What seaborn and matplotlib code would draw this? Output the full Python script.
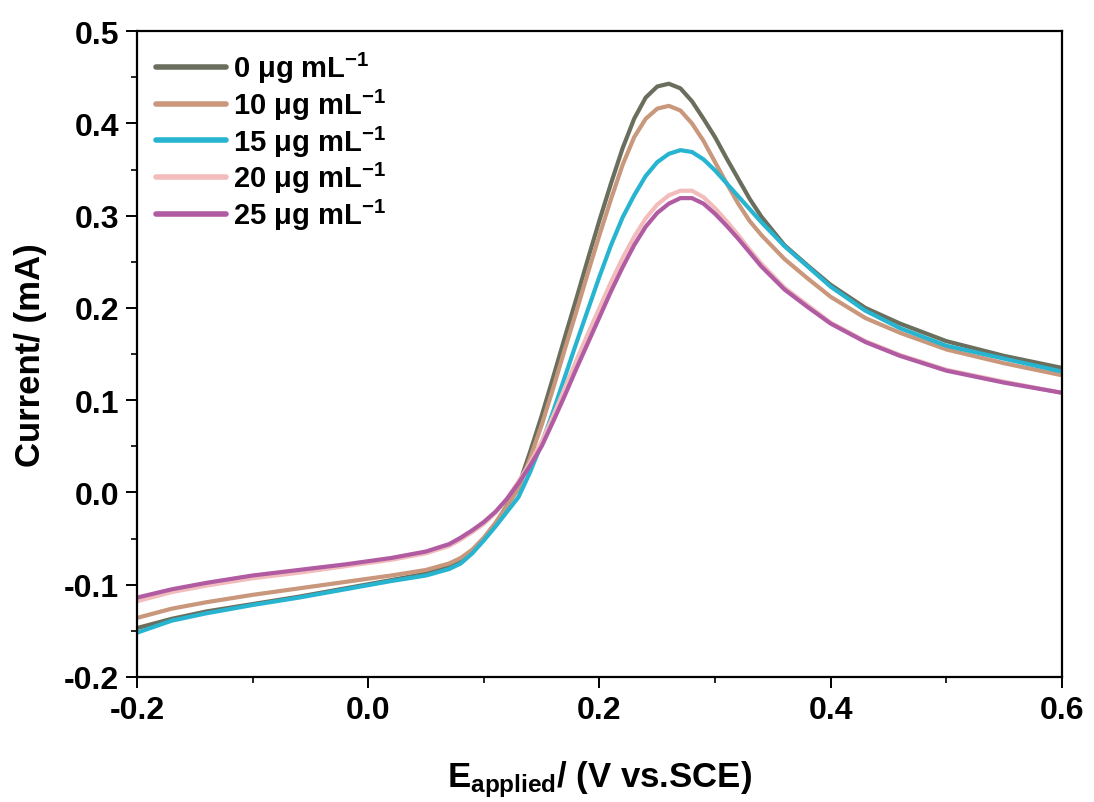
import matplotlib
matplotlib.use("Agg")
import matplotlib.pyplot as plt
from matplotlib.ticker import MultipleLocator
import seaborn as sns
import pandas as pd

# ---- data ----
potential = [-0.20, -0.17, -0.14, -0.10, -0.06, -0.02, 0.02, 0.05, 0.07, 0.08,
             0.09, 0.10, 0.11, 0.12, 0.13, 0.14, 0.15, 0.16, 0.17, 0.18,
             0.19, 0.20, 0.21, 0.22, 0.23, 0.24, 0.25, 0.26, 0.27, 0.28,
             0.29, 0.30, 0.31, 0.32, 0.33, 0.34, 0.36, 0.38, 0.40, 0.43,
             0.46, 0.50, 0.55, 0.60]

current_0 = [-0.147, -0.137, -0.129, -0.121, -0.113, -0.104, -0.095, -0.088, -0.080, -0.074,
             -0.064, -0.050, -0.034, -0.014, 0.007, 0.044, 0.083, 0.125, 0.168, 0.210,
             0.253, 0.295, 0.335, 0.373, 0.405, 0.428, 0.440, 0.443, 0.438, 0.424,
             0.405, 0.385, 0.362, 0.340, 0.318, 0.299, 0.268, 0.246, 0.225, 0.200,
             0.183, 0.164, 0.148, 0.135]

current_10 = [-0.136, -0.126, -0.119, -0.111, -0.104, -0.097, -0.090, -0.084, -0.077, -0.071,
              -0.062, -0.049, -0.033, -0.015, 0.004, 0.037, 0.073, 0.113, 0.155, 0.196,
              0.238, 0.279, 0.318, 0.355, 0.385, 0.405, 0.416, 0.419, 0.414, 0.400,
              0.381, 0.358, 0.335, 0.313, 0.294, 0.279, 0.253, 0.232, 0.212, 0.189,
              0.173, 0.155, 0.140, 0.127]

current_15 = [-0.152, -0.139, -0.131, -0.122, -0.114, -0.105, -0.096, -0.090, -0.083, -0.077,
              -0.066, -0.052, -0.037, -0.021, -0.005, 0.022, 0.053, 0.088, 0.125, 0.162,
              0.198, 0.234, 0.268, 0.298, 0.322, 0.343, 0.358, 0.367, 0.371, 0.369,
              0.361, 0.349, 0.335, 0.321, 0.307, 0.293, 0.267, 0.245, 0.223, 0.197,
              0.178, 0.159, 0.145, 0.131]

current_20 = [-0.118, -0.108, -0.101, -0.093, -0.087, -0.080, -0.073, -0.066, -0.058, -0.051,
              -0.043, -0.034, -0.022, -0.007, 0.012, 0.032, 0.055, 0.083, 0.113, 0.143,
              0.172, 0.200, 0.228, 0.254, 0.277, 0.297, 0.312, 0.322, 0.327, 0.327,
              0.320, 0.308, 0.294, 0.279, 0.263, 0.248, 0.222, 0.203, 0.184, 0.164,
              0.149, 0.133, 0.120, 0.108]

current_25 = [-0.114, -0.105, -0.098, -0.090, -0.084, -0.078, -0.071, -0.064, -0.056, -0.049,
              -0.041, -0.032, -0.021, -0.007, 0.010, 0.029, 0.050, 0.077, 0.105, 0.134,
              0.162, 0.190, 0.218, 0.244, 0.268, 0.288, 0.303, 0.313, 0.319, 0.319,
              0.313, 0.302, 0.289, 0.275, 0.260, 0.245, 0.220, 0.201, 0.183, 0.163,
              0.148, 0.132, 0.119, 0.108]

labels = ["0 μg mL$^{-1}$", "10 μg mL$^{-1}$", "15 μg mL$^{-1}$",
          "20 μg mL$^{-1}$", "25 μg mL$^{-1}$"]
colors = ["#6a6e5c", "#c9977c", "#27b4d0", "#f2bcbc", "#b05ba2"]
series = [current_0, current_10, current_15, current_20, current_25]

x_ticks = [-0.2, 0.0, 0.2, 0.4, 0.6]
y_ticks = [-0.2, -0.1, 0.0, 0.1, 0.2, 0.3, 0.4, 0.5]

# ---- long table ----
rows = []
for lab, ys in zip(labels, series):
    for xv, yv in zip(potential, ys):
        rows.append({"E": xv, "I": yv, "conc": lab})
df = pd.DataFrame(rows)

sns.set_style("white")
plt.rcParams["font.family"] = ["Liberation Sans", "DejaVu Sans"]
plt.rcParams["font.weight"] = "bold"
plt.rcParams["text.color"] = "black"
plt.rcParams["axes.labelcolor"] = "black"
plt.rcParams["xtick.color"] = "black"
plt.rcParams["ytick.color"] = "black"
plt.rcParams["mathtext.fontset"] = "custom"
plt.rcParams["mathtext.rm"] = "Liberation Sans:bold"
plt.rcParams["mathtext.it"] = "Liberation Sans:bold"
plt.rcParams["mathtext.bf"] = "Liberation Sans:bold"
plt.rcParams["mathtext.default"] = "rm"

fig = plt.figure(figsize=(10.94, 8.03), dpi=100)
ax = fig.add_axes([0.1252, 0.1557, 0.8455, 0.8043])

sns.lineplot(data=df, x="E", y="I", hue="conc", hue_order=labels,
             palette=dict(zip(labels, colors)), estimator=None, sort=False,
             linewidth=3.0, ax=ax)

ax.set_xlim(-0.2, 0.6)
ax.set_ylim(-0.2, 0.5)
ax.set_xticks(x_ticks)
ax.set_yticks(y_ticks)
ax.set_xticklabels([f"{v:.1f}" for v in x_ticks])
ax.set_yticklabels([f"{v:.1f}" for v in y_ticks])
ax.xaxis.set_minor_locator(MultipleLocator(0.1))
ax.yaxis.set_minor_locator(MultipleLocator(0.05))

for sp in ax.spines.values():
    sp.set_visible(True)
    sp.set_color("black")
    sp.set_linewidth(1.6)

ax.tick_params(which="major", direction="out", length=8, width=1.4,
               labelsize=23, bottom=True, left=True, top=False, right=False,
               color="black", labelcolor="black", pad=5)
ax.tick_params(which="minor", direction="out", length=4.5, width=1.2,
               bottom=True, left=True, top=False, right=False, color="black")
for t in ax.get_xticklabels() + ax.get_yticklabels():
    t.set_fontweight("bold")

ax.set_xlabel("E$_{\\mathrm{applied}}$/ (V vs.SCE)", fontsize=25,
              fontweight="bold", labelpad=24, color="black")
ax.set_ylabel("Current/ (mA)", fontsize=25, fontweight="bold", labelpad=12,
              color="black")

leg = ax.legend(loc="upper left", bbox_to_anchor=(0.0, 1.0), frameon=False,
                fontsize=21, handlelength=2.4, handletextpad=0.25,
                labelspacing=0.05, borderaxespad=0.3, borderpad=0.35)
for line in leg.get_lines():
    line.set_linewidth(4.0)
for t in leg.get_texts():
    t.set_fontweight("bold")
    t.set_color("black")

fig.savefig("out.png", dpi=100, facecolor="white")
